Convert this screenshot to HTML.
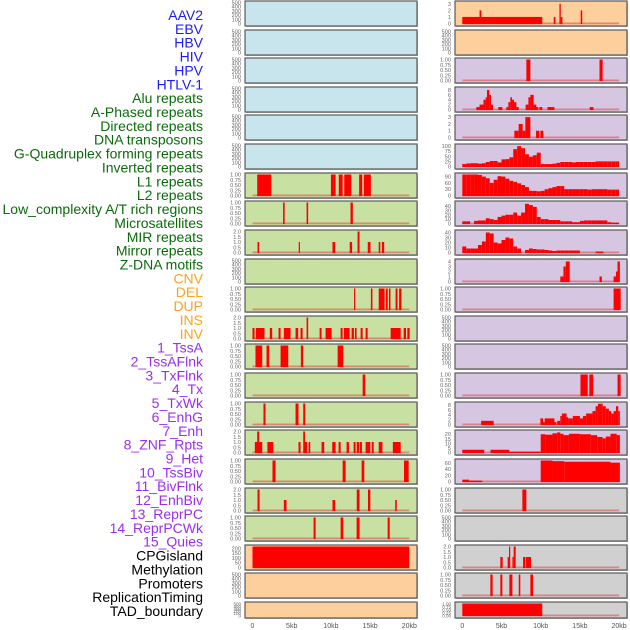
<!DOCTYPE html>
<html><head><meta charset="utf-8">
<style>
html,body{margin:0;padding:0;background:#fff;}
#wrap{position:relative;width:630px;height:630px;overflow:hidden;}
svg text{font-family:"Liberation Sans",sans-serif;}
</style></head>
<body>
<div id="wrap">
<svg id="chart" width="630" height="630" viewBox="0 0 630 630"></svg>
</div>
<script>
// ---- track labels ----
const trackLabels = ["AAV2","EBV","HBV","HIV","HPV","HTLV-1","Alu repeats","A-Phased repeats","Directed repeats","DNA transposons","G-Quadruplex forming repeats","Inverted repeats","L1 repeats","L2 repeats","Low_complexity A/T rich regions","Microsatellites","MIR repeats","Mirror repeats","Z-DNA motifs","CNV","DEL","DUP","INS","INV","1_TssA","2_TssAFlnk","3_TxFlnk","4_Tx","5_TxWk","6_EnhG","7_Enh","8_ZNF_Rpts","9_Het","10_TssBiv","11_BivFlnk","12_EnhBiv","13_ReprPC","14_ReprPCWk","15_Quies","CPGisland","Methylation","Promoters","ReplicationTiming","TAD_boundary"];
const labelGroups = ["v","v","v","v","v","v","r","r","r","r","r","r","r","r","r","r","r","r","r","c","c","c","c","c","s","s","s","s","s","s","s","s","s","s","s","s","s","s","s","o","o","o","o","o"];
const xTickLabels = ["0","5kb","10kb","15kb","20kb"];
const xTickValues = [0,5,10,15,20];

// ---- panel y-scales ----
const leftYMax = [500,500,500,500,500,500,1,1,2,500,1,2,1,1,1,2,1,2,1,220,500,500];
const rightYMax = [3.2,500,1,8.6,3.1,103,100,48,42,4.2,1,500,500,1,8.6,23,68,1,500,2,1,1];
const leftTicks = [[0,100,200,300,400,500],[0,100,200,300,400,500],[0,100,200,300,400,500],[0,100,200,300,400,500],[0,100,200,300,400,500],[0,100,200,300,400,500],
 [0,0.25,0.5,0.75,1],[0,0.25,0.5,0.75,1],[0,0.5,1,1.5,2],[0,100,200,300,400,500],[0,0.25,0.5,0.75,1],[0,0.5,1,1.5,2],[0,0.25,0.5,0.75,1],[0,0.25,0.5,0.75,1],[0,0.25,0.5,0.75,1],[0,0.5,1,1.5,2],[0,0.25,0.5,0.75,1],[0,0.5,1,1.5,2],[0,0.25,0.5,0.75,1],[0,50,100,150,200],[0,100,200,300,400,500],[0,100,200,300,400,500]];
const rightTicks = [[0,1,2,3],[0,100,200,300,400,500],[0,0.25,0.5,0.75,1],[0,2,4,6,8],[0,1,2,3],[0,25,50,75,100],[0,30,60,90],[0,10,20,30,40],[0,10,20,30,40],[0,1,2,3,4],[0,0.25,0.5,0.75,1],[0,100,200,300,400,500],[0,100,200,300,400,500],[0,0.25,0.5,0.75,1],[0,2,4,6,8],[0,5,10,15,20],[0,20,40,60],[0,0.25,0.5,0.75,1],[0,100,200,300,400,500],[0,0.5,1,1.5,2],[0,0.25,0.5,0.75,1],[0,0.25,0.5,0.75,1]];
const leftColors = ["#c8e4ec","#c8e4ec","#c8e4ec","#c8e4ec","#c8e4ec","#c8e4ec","#c8e0a2","#c8e0a2","#c8e0a2","#c8e0a2","#c8e0a2","#c8e0a2","#c8e0a2","#c8e0a2","#c8e0a2","#c8e0a2","#c8e0a2","#c8e0a2","#c8e0a2","#fdcf9c","#fdcf9c","#fdcf9c"];
const rightColors = ["#fdcf9c","#fdcf9c","#d6c6e2","#d6c6e2","#d6c6e2","#d6c6e2","#d6c6e2","#d6c6e2","#d6c6e2","#d6c6e2","#d6c6e2","#d6c6e2","#d6c6e2","#d6c6e2","#d6c6e2","#d6c6e2","#d6c6e2","#d0d0d0","#d0d0d0","#d0d0d0","#d0d0d0","#d0d0d0"];

// ---- interval data [startKb, endKb, value] ----
const leftBars = [[],[],[],[],[],[],
 [[0.6,2.4,1],[10.0,10.6,1],[11.0,11.5,1],[11.7,12.6,1],[13.6,14.0,1],[14.2,15.1,1]],
 [[3.9,4.1,1],[6.9,7.1,1],[12.5,12.8,1]],
 [[0.64,0.85,1],[5.9,6.05,1],[10.2,10.55,1],[12.4,12.7,1],[13.4,13.65,2],[14.7,15.05,1],[16.1,16.3,1],[16.5,16.8,1]],
 [],
 [[12.95,13.1,1],[15.1,15.3,1],[16.1,16.85,1],[17.0,17.25,1],[17.4,17.6,1],[18.25,18.5,1],[18.7,19.0,1]],
 [[0.0,0.26,1],[0.43,1.53,1],[2.21,2.51,1],[3.32,3.58,1],[4.0,4.85,1],[5.49,5.83,1],[6.13,6.39,1],[6.9,7.1,2],[8.56,8.81,1],[9.32,10.09,1],[11.24,11.49,1],[11.66,12.39,1],[12.64,12.94,1],[13.07,13.28,1],[13.79,14.05,1],[14.43,14.69,1],[17.62,18.9,1],[19.28,19.58,1],[19.75,20.05,1]],
 [[0.38,1.24,1],[1.79,2.13,1],[3.58,4.56,1],[6.17,6.47,1],[10.86,11.58,1]],
 [[14.05,14.39,1]],
 [[1.4,1.66,1],[5.49,5.87,1],[6.47,6.73,1]],
 [[0.3,1.24,1],[0.6,0.86,2],[1.9,2.66,1],[5.87,6.13,1],[6.56,6.98,1],[6.47,6.7,2],[7.15,7.37,1],[8.81,9.15,1],[10.17,10.6,1],[10.98,11.24,1],[12.0,12.3,1],[12.9,13.15,1],[13.3,13.6,1],[13.7,13.96,1],[14.43,15.03,1],[15.2,15.46,1],[16.1,16.58,1],[17.9,18.9,1]],
 [[2.55,2.94,1],[11.5,11.88,1],[13.92,14.26,1],[19.32,19.92,1]],
 [[0.64,0.9,2],[4.0,4.34,1],[10.2,10.55,1],[13.3,13.65,2],[14.73,15.03,2],[18.2,18.4,1]],
 [[7.79,8.05,1],[11.24,11.58,1],[13.28,13.66,1],[17.24,17.5,1]],
 [[0,20,220]],
 [],[]];

const rightBars = [
 [[0,10.2,1],[2.2,2.43,2],[11.66,11.88,1],[12.39,12.56,3],[12.56,12.77,1],[15.1,15.3,2]],
 [],
 [[8.17,8.68,1],[17.5,17.9,1]],
 [[1.79,2.2,1],[2.2,2.7,2],[2.7,2.98,4],[2.98,3.15,5],[3.15,3.45,8],[3.45,3.66,6],[3.66,3.92,2],[4.6,5.1,1],[5.62,5.87,1],[5.87,6.13,3],[6.13,6.34,5],[6.34,6.6,4],[6.6,6.9,3],[6.9,7.2,1],[8.08,8.43,2],[8.43,8.68,5],[8.68,9.1,6],[9.1,9.45,2],[9.45,9.7,1],[9.83,10.2,1],[10.86,11.75,1],[16.26,16.73,1]],
 [[6.64,7.19,1],[7.19,7.7,2],[7.7,8.04,1],[8.04,8.68,3],[9.41,9.83,1],[9.96,10.34,1]],
 null,null,null,null,
 [[12.5,12.9,1],[12.9,13.2,3],[13.2,13.7,4],[17.5,17.8,1],[19.3,19.6,1],[19.6,19.8,2],[19.8,20.1,4]],
 [[19.3,20.2,1]],
 [],[],
 [[15.07,16.0,1],[16.2,16.7,1],[19.8,20.2,1]],
 [[2.4,4.0,1.5],[9.96,10.3,2.5],[10.3,10.5,1],[10.5,11.75,2.5],[11.75,12.0,1],[12.1,12.5,1.5],[12.5,12.7,3.5],[12.7,13.3,4.5],[13.3,13.5,3],[13.5,14.1,2.5],[14.1,15.0,3.5],[15.0,15.4,2.5],[15.4,15.8,3.5],[15.8,16.6,4.5],[16.6,17.0,5.5],[17.0,17.3,7.5],[17.3,17.9,8.5],[17.9,18.3,7.5],[18.3,18.7,6.5],[18.7,19.0,5.5],[19.0,19.3,4.5],[19.3,19.6,5.5],[19.6,19.9,7.5],[19.9,20.1,5.5]],
 [[0,2.8,3],[3.6,6.0,3],[6.0,10.0,1],[10.0,10.6,20],[10.6,11.5,19.5],[11.5,12.1,21],[12.1,12.5,22],[12.5,12.9,20.5],[12.9,13.6,19],[13.6,15.0,20.5],[15.0,16.4,20],[16.4,17.2,19],[17.2,17.9,17],[17.9,18.3,15.5],[18.3,18.9,17.5],[18.9,19.7,20.5],[19.7,20.1,19]],
 [[0,0.85,6],[0.85,2.55,3],[10.0,11.5,68],[11.5,13.0,66],[13.0,18.9,64],[18.9,20.1,61]],
 [[7.66,8.17,1]],
 [],
 [[4.85,5.15,1],[5.79,5.96,1],[5.96,6.09,2],[6.39,6.55,1],[6.55,6.81,2],[7.75,8.05,1],[8.13,8.77,1]],
 [[3.58,3.87,1],[4.85,5.11,1],[6.0,6.39,1],[7.2,7.4,1],[8.68,9.03,1]],
 [[0,10.2,1]]];

// ---- binned histogram data (0.5kb bins) for right rows 6-9 ----
const binsG4 = [12,15,16,16,14,16,22,27,27,20,35,36,45,85,100,90,60,48,55,68,12,12,12,14,18,22,22,22,20,22,22,22,22,22,25,25,25,25,25,25];
const binsInverted = [100,100,100,100,98,90,82,60,75,92,90,80,70,65,58,50,40,22,22,20,22,30,35,40,45,45,30,30,30,30,30,30,28,30,30,30,30,28,28,28];
const binsL1 = [5,5,0,6,7,7,12,10,8,15,18,20,20,25,18,25,45,42,38,15,10,10,8,8,8,5,5,5,3,3,6,7,7,7,7,7,7,3,2,2];
const binsL2 = [12,8,8,8,15,22,40,38,20,18,25,30,28,12,8,0,5,8,7,6,6,5,4,3,4,4,4,4,4,4,0,0,0,0,2,2,0,0,0,0];

const NS = "http://www.w3.org/2000/svg";
const svg = document.getElementById('chart');
function mk(tag, attrs, parent){
  const e = document.createElementNS(NS, tag);
  for (const k in attrs) e.setAttribute(k, attrs[k]);
  (parent||svg).appendChild(e);
  return e;
}
function binsToBars(b){ return b.map((v,i)=>[i*0.5,(i+1)*0.5,v]); }
rightBars[5] = binsToBars(binsG4);
rightBars[6] = binsToBars(binsInverted);
rightBars[7] = binsToBars(binsL1);
rightBars[8] = binsToBars(binsL2);

// geometry
const ROWS = 22, ROWSTEP = 28.62;
function rowTop(i){ return Math.round(i*ROWSTEP)+1; }
function rowH(i){ return i===ROWS-1 ? 16 : 25; }
const cols = [{left:245,right:417,x0:252.5},{left:455,right:627,x0:462.3}];
const KB = (409.3-252.5)/20;
function xScale(col, kb){ return cols[col].x0 + kb*KB; }
function yScale(i, ymax, v){ const t=rowTop(i), h=rowH(i); const base=t+h-2.5, top=t+1.5; return base - (v/ymax)*(base-top); }

// labels
const colorMap = {v:"#1c1cf4", r:"#0b6b0b", c:"#ffa21c", s:"#9a2ef0", o:"#000000"};
trackLabels.forEach((lab,i)=>{
  const t = mk('text',{x:203,y:15+i*13.86+5,'text-anchor':'end','font-size':'14',fill:colorMap[labelGroups[i]]});
  
  
  t.textContent = lab;
});

function drawPanel(col, i, ymax, ticks, bars, bg){
  const c = cols[col], t=rowTop(i), h=rowH(i);
  const g = mk('g',{});
  
  
  const shadow = mk('rect',{x:c.left+1,y:t+1,width:c.right-c.left,height:h,fill:'#bbbbbb'},g);
  
  
  const r = mk('rect',{x:c.left,y:t,width:c.right-c.left,height:h,fill:bg,stroke:'#5a5a5a','stroke-width':1.2},g);
  
  
  if (bars && bars.length){
    const bl = mk('rect',{x:xScale(col,0),y:yScale(i,ymax,0)-1,width:20*KB,height:1.8,fill:'#e05050',opacity:0.6},g);
    
    
    bars.forEach(b=>{
      if (b[2]<=0) return;
      const x1=xScale(col,b[0]), x2=xScale(col,b[1]);
      const y=yScale(i,ymax,b[2]), y0=yScale(i,ymax,0);
      const rect = mk('rect',{x:x1,y:y,width:Math.max(x2-x1,1.2),height:y0-y+0.6,fill:'#ff0000'},g);
      
      
    });
  }
  const fs = h<20 ? 4.5 : 5.6;
  ticks.forEach(v=>{
    const lbl = ymax<=1.05 && ticks.length===5 ? v.toFixed(2) : (ticks[ticks.length-1]===2 ? v.toFixed(1) : String(v));
    const tx = mk('text',{x:c.left-4,y:yScale(i,ymax,v)+2,'text-anchor':'end','font-size':fs,fill:'#666'},g);
    
    
    tx.textContent = lbl;
  });
}
for (let i=0;i<ROWS;i++){
  drawPanel(0,i,leftYMax[i],leftTicks[i],leftBars[i],leftColors[i]);
  drawPanel(1,i,rightYMax[i],rightTicks[i],rightBars[i],rightColors[i]);
}
// x axes
[0,1].forEach(col=>{
  xTickValues.forEach((v,k)=>{
    const tx = mk('text',{x:xScale(col,v),y:628,'text-anchor':'middle','font-size':'7',fill:'#555'});
    
    
    tx.textContent = xTickLabels[k];
  });
});
</script>
</body></html>
